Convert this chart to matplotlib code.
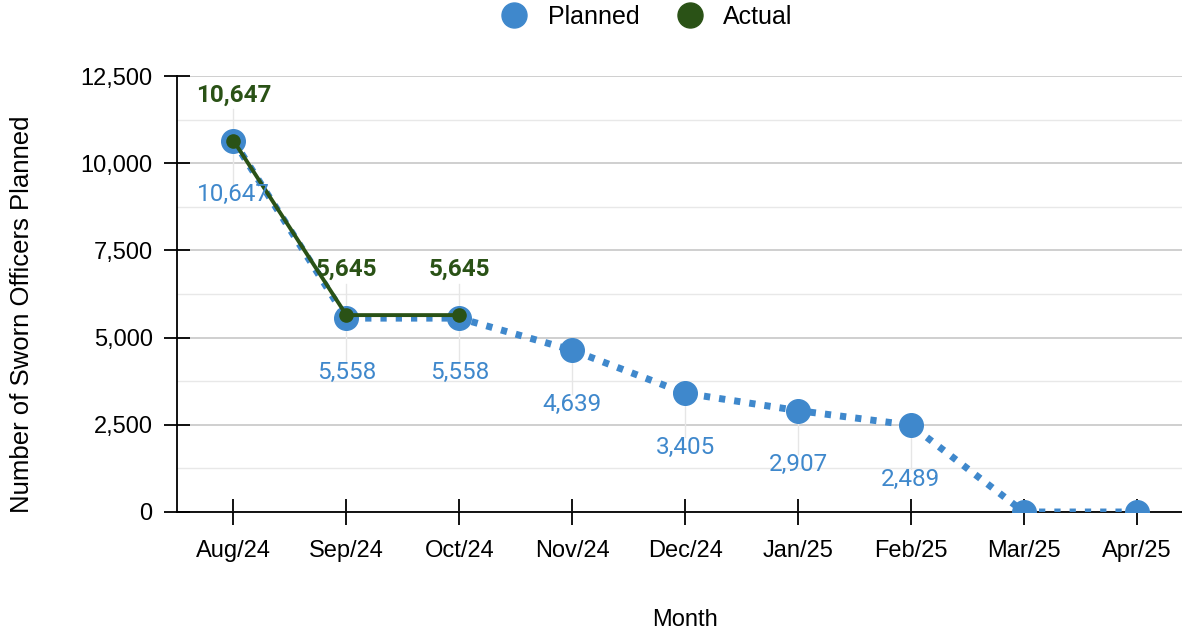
import matplotlib
matplotlib.use("Agg")
import matplotlib.pyplot as plt
from matplotlib.lines import Line2D

plt.rcParams['font.family'] = ['Liberation Sans', 'DejaVu Sans']

months = ["Aug/24", "Sep/24", "Oct/24", "Nov/24", "Dec/24", "Jan/25", "Feb/25", "Mar/25", "Apr/25"]
planned = [10647, 5558, 5558, 4639, 3405, 2907, 2489, 0, 0]
actual = [10647, 5645, 5645]
yticks = [0, 2500, 5000, 7500, 10000, 12500]

BLUE = "#3f88cc"
GREEN = "#2a5216"
LABEL_FONT = ['Roboto', 'DejaVu Sans']

fig = plt.figure(figsize=(11.82, 6.32), dpi=100)
ax = fig.add_axes([177/1182, 1 - 512/632, (1182-177)/1182, (512-76)/632])

x = list(range(len(months)))
xa = list(range(len(actual)))

# leader lines
for xi, v in zip(x, planned):
    if v > 0:
        ax.plot([xi, xi], [v, v - 1250], color="#e6e6e6", lw=1, zorder=1)
for xi, v in zip(xa, actual):
    ax.plot([xi, xi], [v, v + 900], color="#e6e6e6", lw=1, zorder=1)

ax.plot(x, planned, color=BLUE, lw=5, linestyle=(0, (0.9, 1.3)), marker='o', ms=17,
        markerfacecolor=BLUE, markeredgecolor=BLUE, zorder=3)
ax.plot(xa, actual, color=GREEN, lw=2.8, marker='o', ms=9.5,
        markerfacecolor=GREEN, markeredgecolor=GREEN, zorder=4)

for xi, v in zip(x, planned):
    if v > 0:
        ax.annotate(f"{v:,}", (xi, v), xytext=(0, -39), textcoords='offset points',
                    ha='center', va='center', color=BLUE, fontsize=17.5,
                    family=LABEL_FONT, zorder=5)
for xi, v in zip(xa, actual):
    ax.annotate(f"{v:,}", (xi, v), xytext=(0, 33), textcoords='offset points',
                ha='center', va='center', color=GREEN, fontsize=17.5, fontweight='bold',
                family=LABEL_FONT, zorder=5)

ax.set_xlim(-0.5, 8.4)
ax.set_ylim(0, 12500)
ax.set_yticks(yticks)
ax.set_yticklabels([f"{t:,}" for t in yticks])
ax.set_yticks([1250, 3750, 6250, 8750, 11250], minor=True)
ax.set_xticks(x)
ax.set_xticklabels(months)
ax.grid(axis='y', which='major', color="#cccccc", lw=1.3)
ax.grid(axis='y', which='minor', color="#e8e8e8", lw=1)
ax.set_axisbelow(True)
ax.tick_params(axis='both', which='major', direction='inout', length=19, width=1.3,
               labelsize=17, colors='black')
ax.tick_params(axis='y', which='major', pad=8)
ax.tick_params(axis='x', which='major', pad=11)
ax.tick_params(axis='y', which='minor', length=0)
for s in ['top', 'right']:
    ax.spines[s].set_visible(False)
ax.spines['left'].set_linewidth(1.3)
ax.spines['bottom'].set_linewidth(1.3)
ax.spines['bottom'].set_zorder(2)

ax.set_xlabel("Month", fontsize=17)
ax.set_ylabel("Number of Sworn Officers Planned", fontsize=18.5)
ax.xaxis.set_label_coords((685-177)/1005, (512-620)/436)
ax.yaxis.set_label_coords((22-177)/1005, (512-314)/436)
ax.xaxis.label.set_va('center')
ax.yaxis.label.set_va('center')

handles = [Line2D([], [], marker='o', ls='', ms=18, color=BLUE, label="Planned"),
           Line2D([], [], marker='o', ls='', ms=18, color=GREEN, label="Actual")]
fig.legend(handles=handles, loc='center', bbox_to_anchor=(646/1182, 1 - 17/632), ncol=2,
           frameon=False, fontsize=18, handletextpad=0.75, columnspacing=1.4,
           handlelength=1.2)

fig.savefig("out.png", dpi=100)
